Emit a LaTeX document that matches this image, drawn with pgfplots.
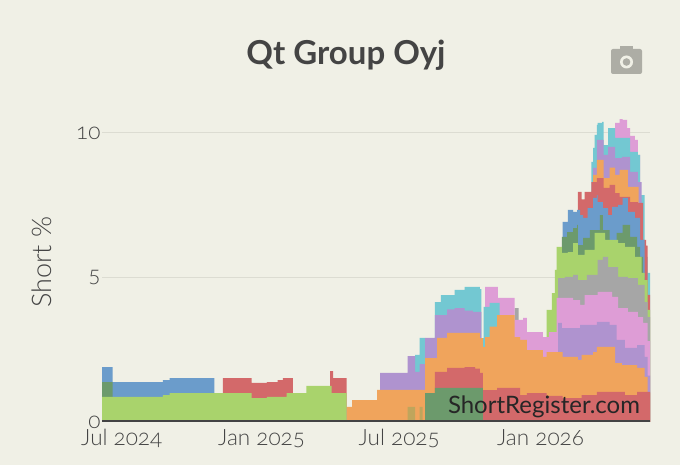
\documentclass[border=0pt]{standalone}
\usepackage{fontspec}
\setmainfont[Numbers=OldStyle]{Lato}
\newfontfamily\lightfont[Numbers=OldStyle]{Lato Light}
\usepackage{pgfplots}
\pgfplotsset{compat=1.18}

\definecolor{bg}{HTML}{F0F0E6}
\definecolor{txt}{HTML}{444444}
\definecolor{gridc}{HTML}{DCDCD2}
\definecolor{cgreen}{HTML}{A9D36C}
\definecolor{cdark}{HTML}{6C9A6C}
\definecolor{cblue}{HTML}{6B9CCB}
\definecolor{cred}{HTML}{D3696A}
\definecolor{corange}{HTML}{F0A45C}
\definecolor{cpurple}{HTML}{AF93CF}
\definecolor{cteal}{HTML}{73C8D2}
\definecolor{cpink}{HTML}{DE9DD6}
\definecolor{cgray}{HTML}{A6A6A6}
\definecolor{colive}{HTML}{BFA55C}

\pgfplotsset{band/.style={const plot mark left, draw=none, fill=#1, mark=none}}

\begin{document}
\begin{tikzpicture}[x=1pt,y=1pt]
\fill[bg] (0,0) rectangle (680,465);
\useasboundingbox (0,0) rectangle (680,465);

\begin{axis}[
    at={(102pt,43pt)}, anchor=south west,
    scale only axis, width=548pt, height=307pt,
    xmin=-26, xmax=695,
    ymin=0, ymax=10.62,
    xtick={0,184,365,551},
    xticklabels={Jul 2024,Jan 2025,Jul 2025,Jan 2026},
    ytick={0,5,10},
    major tick length=0pt,
    axis x line*=bottom, axis y line*=left,
    x axis line style={draw=none}, y axis line style={draw=none},
    ymajorgrids=true,
    grid style={line width=1pt, draw=gridc},
    /pgf/number format/assume math mode=true,
    tick label style={font=\lightfont\fontsize{22.5}{24}\selectfont, text=txt},
    xticklabel style={yshift=-4pt},
    yticklabel style={xshift=2pt},
    ylabel={Short \%},
    every axis y label/.style={at={(axis description cs:-0.109,0.52)},rotate=90,anchor=center},
    ylabel style={font=\lightfont\fontsize{27}{29}\selectfont, text=txt},
    clip=true,
]

% painted from the highest band down, values are the band tops in %
\addplot[band=cpink] coordinates {(649,10.35) (655,10.48) (659,10.45) (665,10.17) (669,9.9) (675,9.76) (679,9.24) (682,0)} \closedcycle;
\addplot[band=cteal] coordinates {(618,9.0) (620,9.48) (622,9.93) (625,10.28) (626,10.35) (632,10.38) (634,9.58) (640,10.17) (645,10.17) (649,9.83) (665,9.83) (669,9.34) (679,9.24) (682,7.85) (688,5.71) (692,5.16) (695,0)} \closedcycle;
\addplot[band=cpurple] coordinates {(620,8.79) (625,9.76) (634,9.24) (640,9.52) (649,9.13) (658,9.17) (669,8.65) (679,8.3) (684,0)} \closedcycle;
\addplot[band=corange] coordinates {(620,8.55) (625,9.07) (634,8.44) (642,8.8) (649,8.55) (655,8.72) (666,8.13) (680,7.5) (684,0)} \closedcycle;
\addplot[band=cred] coordinates {(600,7.96) (605,7.7) (609,7.96) (618,8.3) (625,8.44) (634,8.1) (642,8.2) (649,7.92) (655,7.79) (669,7.61) (679,7.58) (686,6.3) (690,6.1) (692,4.4) (695,0)} \closedcycle;
\addplot[band=cblue] coordinates {(580,6.92) (587,7.34) (594,7.27) (599,7.34) (603,7.16) (607,7.06) (613,7.4) (620,7.75) (625,7.85) (626,7.61) (633,7.4) (640,7.16) (645,7.44) (653,7.51) (659,7.75) (666,7.27) (675,7.06) (682,6.3) (688,0)} \closedcycle;
\addplot[band=cdark] coordinates {(579,6.4) (586,6.57) (594,6.71) (599,6.82) (600,6.12) (607,6.37) (616,6.64) (629,7.16) (633,6.64) (642,6.19) (651,6.54) (659,6.82) (669,6.4) (678,6.06) (682,5.71) (686,5.0) (688,0)} \closedcycle;
\addplot[band=cgreen] coordinates {(559,3.88) (566,4.46) (570,5.26) (572,6.06) (579,5.85) (587,5.88) (594,6.19) (600,5.78) (607,5.78) (609,5.95) (616,5.95) (622,6.54) (633,6.54) (636,6.3) (645,6.3) (653,6.19) (662,6.06) (675,5.71) (684,5.16) (688,4.91) (692,3.88) (695,0)} \closedcycle;
\addplot[band=cgray] coordinates {(517,3.94) (522,0) (574,4.98) (583,5.02) (594,5.09) (600,4.91) (612,5.09) (626,5.61) (633,5.71) (640,5.36) (653,5.02) (666,4.98) (679,4.74) (688,4.15) (692,3.63) (695,0)} \closedcycle;
\addplot[band=cpink] coordinates {(478,4.67) (495,4.29) (517,3.53) (528,3.6) (533,3.11) (554,2.94) (562,3.11) (572,4.29) (594,4.22) (603,4.05) (609,4.39) (626,4.5) (633,4.5) (645,4.33) (653,3.94) (666,3.81) (679,3.63) (686,3.43) (692,2.8) (695,0)} \closedcycle;
\addplot[band=cteal] coordinates {(386,2.32) (392,2.91) (399,0) (412,4.15) (420,4.39) (438,4.57) (451,4.67) (471,4.6) (473,2.9) (476,3.98) (484,4.12) (497,0)} \closedcycle;
\addplot[band=cpurple] coordinates {(340,1.7) (376,2.28) (386,1.73) (392,2.0) (399,2.91) (412,3.7) (428,3.9) (438,3.94) (451,3.85) (462,3.81) (473,0) (574,3.43) (579,3.25) (603,3.36) (625,3.46) (642,3.36) (651,2.84) (662,2.56) (678,2.66) (688,2.25) (692,1.6) (695,0)} \closedcycle;
\addplot[band=corange] coordinates {(296,0.52) (303,0.76) (326,0.76) (336,1.11) (399,2.21) (415,2.91) (428,3.08) (462,3.08) (471,2.9) (475,2.6) (478,2.94) (484,3.3) (494,3.7) (515,3.7) (517,2.94) (524,2.84) (533,2.49) (554,2.25) (559,2.42) (580,2.25) (600,2.15) (605,2.32) (620,2.42) (625,2.6) (645,2.6) (649,2.04) (658,1.97) (678,1.87) (688,1.56) (692,1.0) (695,0)} \closedcycle;
\addplot[band=colive] coordinates {(376,0.52) (386,0) (392,0.52) (396,0)} \closedcycle;
\addplot[band=cred] coordinates {(412,1.73) (428,1.87) (451,1.9) (465,1.85) (471,1.7) (475,1.1) (494,1.18) (515,1.18) (524,0.93) (533,1.0) (559,0.9) (580,0.83) (605,0.93) (625,1.04) (662,0.93) (678,1.04) (695,1.0)} \closedcycle;
\addplot[band=cdark] coordinates {(399,1.0) (412,1.18) (471,1.18) (475,0)} \closedcycle;
% first year
\addplot[band=cblue] coordinates {(-26,1.9) (-12,1.38) (54,1.45) (63,1.52) (122,0)} \closedcycle;
\addplot[band=cred] coordinates {(133,1.52) (171,1.35) (191,1.38) (205,1.45) (212,1.52) (225,0) (274,1.76) (278,1.52) (296,0)} \closedcycle;
\addplot[band=cdark] coordinates {(-26,1.38) (-12,0)} \closedcycle;
\addplot[band=cgreen] coordinates {(-26,0.87) (54,0.93) (63,1.0) (171,0.83) (191,0.87) (217,1.0) (243,1.25) (276,1.0) (296,0)} \closedcycle;

\draw[txt, line width=3pt] (axis cs:-26,0) -- (axis cs:695,0);
\end{axis}

\node[font=\bfseries\fontsize{33}{35}\selectfont, text=txt] at (346,410) {Qt Group Oyj};
\node[font=\fontsize{24}{26}\selectfont, text=black!85] at (544,58) {ShortRegister.com};

% camera icon
\fill[black!28!bg, rounded corners=2pt] (611,391) rectangle (642,416);
\fill[black!28!bg] (620,414) rectangle (633,419);
\fill[bg] (626.5,403) circle (6.5);
\fill[black!28!bg] (626.5,403) circle (3.8);
\end{tikzpicture}
\end{document}
